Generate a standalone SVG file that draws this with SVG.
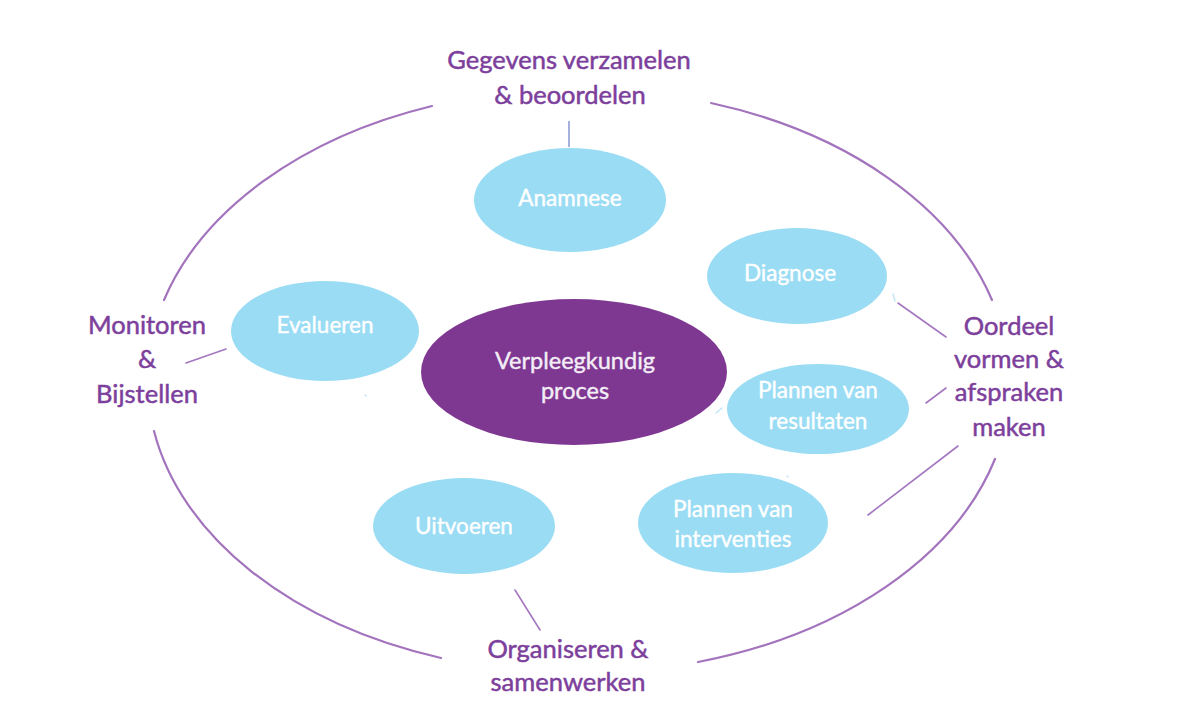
<svg xmlns="http://www.w3.org/2000/svg" width="1200" height="716" viewBox="0 0 1200 716">
<style>
.ring{fill:none;stroke:#a374bd;stroke-width:2.2;stroke-linecap:round}
.link{fill:none;stroke:#a477c0;stroke-width:1.6;stroke-linecap:round}
.faint{fill:none;stroke:#bfe6f7;stroke-width:1.4;stroke-linecap:round}
.blue{fill:#99dcf4}
.core{fill:#7f3892}
.lbl{font-family:Lato,"Open Sans",sans-serif;font-size:25.5px;fill:#7d3f9c;stroke:#7d3f9c;stroke-width:0.5;text-anchor:middle}
.nt{font-family:Lato,"Open Sans",sans-serif;font-size:22.5px;fill:#ffffff;stroke:#ffffff;stroke-width:0.4;text-anchor:middle}
.ct{font-family:Lato,"Open Sans",sans-serif;font-size:23.5px;fill:#f3eef6;stroke:#f3eef6;stroke-width:0.4;text-anchor:middle}
</style>
<rect width="1200" height="716" fill="#ffffff"/>
<g id="ring">
<path class="ring" d="M432,106 A428,292 0 0 0 164,300"/>
<path class="ring" d="M711,103 A428,292 0 0 1 992,300"/>
<path class="ring" d="M154,431 A428,292 0 0 0 441,658"/>
<path class="ring" d="M995,459 A428,292 0 0 1 698,662"/>
</g>
<g id="connectors">
<line x1="569" y1="121" x2="569" y2="147" stroke="#8e9ed4" stroke-width="1.6"/>
<line class="link" x1="898" y1="303" x2="946" y2="337"/>
<line class="link" x1="926" y1="403" x2="946" y2="388"/>
<line class="link" x1="868" y1="515" x2="958" y2="446"/>
<line class="link" x1="186" y1="363" x2="226" y2="349"/>
<line class="link" x1="515" y1="590" x2="540" y2="630"/>
<line class="faint" x1="893" y1="294" x2="895" y2="301"/>
<line class="faint" x1="365" y1="395" x2="366" y2="396"/>
<line class="faint" x1="716" y1="413" x2="722" y2="408"/>
<line class="faint" x1="787" y1="476" x2="788" y2="477"/>
</g>
<g id="label-gegevens">
<text class="lbl" x="569" y="69">Gegevens verzamelen</text>
<text class="lbl" x="570" y="104">&amp; beoordelen</text>
</g>
<g id="label-oordeel">
<text class="lbl" x="1009" y="335">Oordeel</text>
<text class="lbl" x="1009" y="368">vormen &amp;</text>
<text class="lbl" x="1009" y="401">afspraken</text>
<text class="lbl" x="1009" y="436">maken</text>
</g>
<g id="label-monitoren">
<text class="lbl" x="147" y="334">Monitoren</text>
<text class="lbl" x="147" y="368">&amp;</text>
<text class="lbl" x="147" y="403">Bijstellen</text>
</g>
<g id="label-organiseren">
<text class="lbl" x="568" y="658">Organiseren &amp;</text>
<text class="lbl" x="568" y="691">samenwerken</text>
</g>
<g id="node-anamnese">
<ellipse class="blue" cx="570" cy="200" rx="96" ry="52"/>
<text class="nt" x="570" y="206">Anamnese</text>
</g>
<g id="node-diagnose">
<ellipse class="blue" cx="797" cy="276" rx="90" ry="48"/>
<text class="nt" x="790" y="281">Diagnose</text>
</g>
<g id="node-evalueren">
<ellipse class="blue" cx="325" cy="331" rx="94" ry="50"/>
<text class="nt" x="325" y="333">Evalueren</text>
</g>
<g id="node-center">
<ellipse class="core" cx="574" cy="372" rx="153" ry="73"/>
<text class="ct" x="575" y="369">Verpleegkundig</text>
<text class="ct" x="575" y="399">proces</text>
</g>
<g id="node-resultaten">
<ellipse class="blue" cx="818" cy="409" rx="91" ry="45"/>
<text class="nt" x="818" y="398">Plannen van</text>
<text class="nt" x="818" y="429">resultaten</text>
</g>
<g id="node-interventies">
<ellipse class="blue" cx="733" cy="523" rx="95" ry="50"/>
<text class="nt" x="733" y="517">Plannen van</text>
<text class="nt" x="733" y="547">interventies</text>
</g>
<g id="node-uitvoeren">
<ellipse class="blue" cx="464" cy="526" rx="91" ry="48"/>
<text class="nt" x="464" y="534">Uitvoeren</text>
</g>
</svg>
